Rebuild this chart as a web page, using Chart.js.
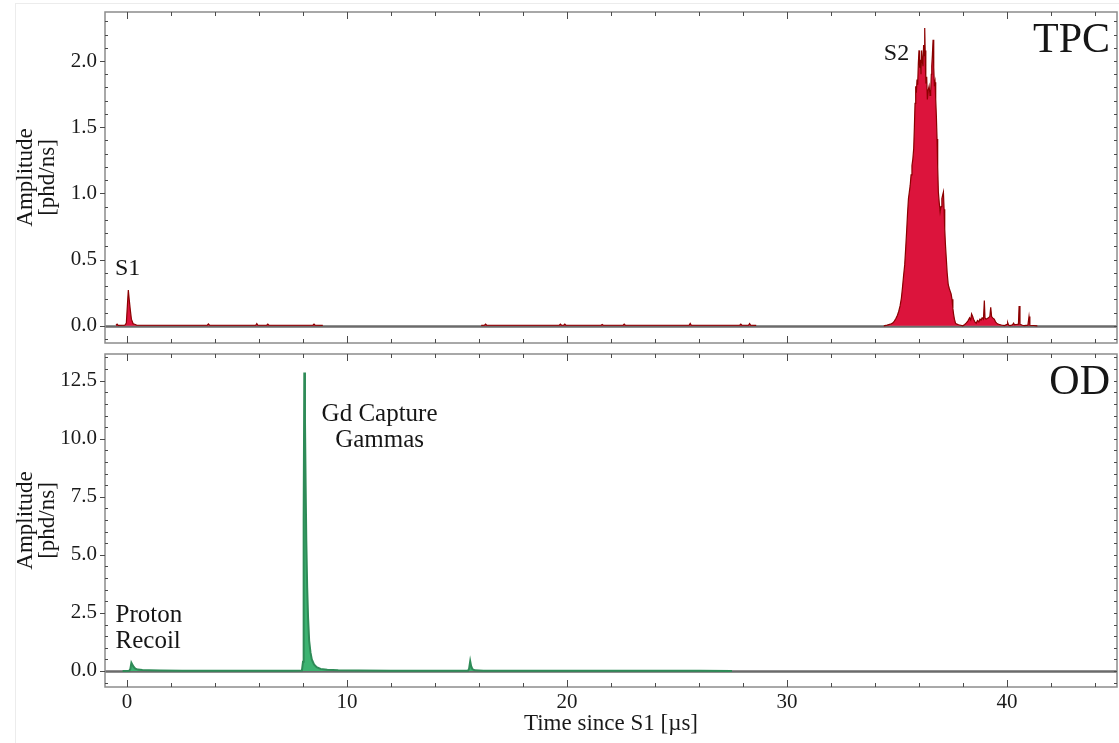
<!DOCTYPE html>
<html>
<head>
<meta charset="utf-8">
<script src="https://cdn.jsdelivr.net/npm/chart.js@4.4.1/dist/chart.umd.min.js"></script>
<style>
  html, body { margin: 0; padding: 0; background: #fff; }
  #wrap { position: relative; width: 1119px; height: 743px; overflow: hidden; background: #fff; }
  #wrap canvas { position: absolute; left: 0; }
  #tpc { top: 0; }
  #od { top: 348px; }
  #edge { position: absolute; left: 15px; top: 3px; right: 0; bottom: 0;
          border-left: 1px solid #ececec; border-top: 1px solid #ececec; }
</style>
</head>
<body>
<div id="wrap">
  <div id="edge"></div>
  <canvas id="tpc" width="1119" height="348"></canvas>
  <canvas id="od" width="1119" height="395"></canvas>
</div>
<script>
// ---- waveform samples: [time since S1 (µs), amplitude (phd/ns)] ----

// TPC: S1 pulse and the quiet stretch after it
const tpcS1 = [
  [-0.50, 0.004], [-0.45, 0.012], [-0.40, 0.003], [-0.10, 0.004], [-0.03, 0.020],
  [0.02, 0.160], [0.06, 0.270], [0.10, 0.200], [0.15, 0.120], [0.20, 0.050],
  [0.28, 0.015], [0.35, 0.012], [0.45, 0.004], [0.80, 0.004], [1.50, 0.004],
  [3.65, 0.004], [3.70, 0.014], [3.75, 0.004], [5.85, 0.004], [5.90, 0.016],
  [5.95, 0.004], [6.35, 0.004], [6.40, 0.012], [6.45, 0.004], [8.45, 0.004],
  [8.50, 0.012], [8.55, 0.004], [8.90, 0.003]
];

// TPC: single electrons / small pulses during the drift
const tpcDrift = [
  [16.10, 0.003], [16.25, 0.004], [16.30, 0.012], [16.35, 0.004], [18.00, 0.004],
  [19.65, 0.004], [19.70, 0.012], [19.75, 0.004], [19.85, 0.004], [19.90, 0.012],
  [19.95, 0.004], [21.55, 0.004], [21.60, 0.010], [21.65, 0.004], [22.55, 0.004],
  [22.60, 0.012], [22.65, 0.004], [24.00, 0.004], [25.55, 0.004], [25.60, 0.018],
  [25.65, 0.004], [27.85, 0.004], [27.90, 0.012], [27.95, 0.004], [28.25, 0.004],
  [28.30, 0.016], [28.35, 0.004], [28.60, 0.003]
];

// TPC: S2 pulse and its tail
const tpcS2 = [
  [34.40, 0.000], [34.55, 0.005], [34.70, 0.012], [34.80, 0.020], [34.88, 0.035],
  [34.95, 0.055], [35.02, 0.080], [35.08, 0.110], [35.14, 0.150], [35.20, 0.210],
  [35.25, 0.290], [35.30, 0.380], [35.35, 0.460], [35.40, 0.600], [35.44, 0.720],
  [35.48, 0.850], [35.52, 0.960], [35.56, 1.010], [35.60, 1.060], [35.64, 1.140],
  [35.68, 1.210], [35.72, 1.260], [35.76, 1.340], [35.79, 1.500], [35.82, 1.680],
  [35.85, 1.810], [35.88, 1.760], [35.91, 1.860], [35.94, 1.820], [35.97, 1.980],
  [36.00, 2.080], [36.03, 1.950], [36.06, 2.010], [36.09, 1.900], [36.12, 2.080],
  [36.15, 2.000], [36.18, 1.960], [36.21, 2.120], [36.24, 2.040], [36.26, 2.250],
  [36.28, 2.080], [36.31, 1.830], [36.35, 1.880], [36.38, 1.710], [36.42, 1.780],
  [36.46, 1.810], [36.50, 1.740], [36.53, 1.760], [36.56, 1.900], [36.58, 1.960],
  [36.61, 2.050], [36.64, 2.160], [36.67, 1.950], [36.70, 1.810], [36.73, 1.840],
  [36.76, 1.710], [36.79, 1.580], [36.82, 1.410], [36.85, 1.200], [36.88, 1.010],
  [36.92, 0.930], [36.96, 0.860], [37.00, 0.900], [37.04, 0.960], [37.08, 0.990],
  [37.11, 1.010], [37.14, 0.880], [37.17, 0.730], [37.20, 0.620], [37.24, 0.510],
  [37.28, 0.400], [37.33, 0.310], [37.38, 0.280], [37.42, 0.260], [37.46, 0.240],
  [37.50, 0.200], [37.54, 0.130], [37.57, 0.090], [37.61, 0.050], [37.66, 0.020],
  [37.72, 0.012], [37.80, 0.008], [37.90, 0.004], [37.99, 0.000], [38.08, 0.010],
  [38.14, 0.020], [38.22, 0.035], [38.30, 0.060], [38.35, 0.045], [38.39, 0.090],
  [38.44, 0.070], [38.48, 0.050], [38.54, 0.030], [38.60, 0.020], [38.66, 0.040],
  [38.72, 0.030], [38.77, 0.050], [38.83, 0.045], [38.87, 0.060], [38.93, 0.050],
  [38.97, 0.190], [39.00, 0.060], [39.05, 0.050], [39.10, 0.055], [39.16, 0.060],
  [39.22, 0.070], [39.26, 0.140], [39.30, 0.070], [39.35, 0.060], [39.42, 0.050],
  [39.48, 0.030], [39.53, 0.020], [39.60, 0.012], [39.65, 0.010], [39.75, 0.006],
  [39.88, 0.002], [40.00, 0.010], [40.03, 0.025], [40.07, 0.006], [40.14, 0.002],
  [40.25, 0.008], [40.30, 0.020], [40.34, 0.008], [40.45, 0.010], [40.52, 0.012],
  [40.55, 0.150], [40.59, 0.012], [40.70, 0.004], [40.78, 0.002], [40.95, 0.005],
  [41.00, 0.070], [41.04, 0.004], [41.20, 0.002], [41.38, 0.000]
];

// OD: proton recoil, Gd capture gammas and a late small pulse
const odPulses = [
  [-0.20, 0.000], [0.10, 0.010], [0.15, 0.080], [0.20, 0.350], [0.24, 0.280],
  [0.30, 0.180], [0.38, 0.100], [0.50, 0.060], [0.70, 0.040], [1.00, 0.030],
  [1.50, 0.020], [2.50, 0.015], [4.00, 0.012], [6.00, 0.010], [7.50, 0.010],
  [7.95, 0.020], [8.00, 0.400], [8.03, 6.500], [8.06, 12.850], [8.09, 10.800],
  [8.12, 8.000], [8.15, 5.600], [8.19, 3.600], [8.23, 2.300], [8.28, 1.300],
  [8.34, 0.800], [8.40, 0.500], [8.50, 0.280], [8.62, 0.160], [8.80, 0.090],
  [9.10, 0.050], [9.60, 0.030], [10.50, 0.020], [12.00, 0.015], [14.00, 0.012],
  [15.50, 0.012], [15.55, 0.100], [15.60, 0.420], [15.64, 0.220], [15.70, 0.080],
  [15.80, 0.030], [16.20, 0.015], [18.00, 0.012], [20.00, 0.010], [22.00, 0.010],
  [24.00, 0.008], [26.00, 0.006], [27.50, 0.000]
];

// axis ranges and ticks
const xRange = [-1.0, 45.0];
const xMajor = [0, 10, 20, 30, 40];
const xMinor = [2, 4, 6, 8, 12, 14, 16, 18, 22, 24, 26, 28, 32, 34, 36, 38, 42, 44];

const tpcRange = [-0.13, 2.37];
const tpcMajor = [0, 0.5, 1.0, 1.5, 2.0];
const tpcMinor = [-0.1, 0.1, 0.2, 0.3, 0.4, 0.6, 0.7, 0.8, 0.9, 1.1, 1.2, 1.3, 1.4,
                  1.6, 1.7, 1.8, 1.9, 2.1, 2.2, 2.3];

const odRange = [-0.69, 13.65];
const odMajor = [0, 2.5, 5.0, 7.5, 10.0, 12.5];
const odMinor = [-0.5, 0.5, 1, 1.5, 2, 3, 3.5, 4, 4.5, 5.5, 6, 6.5, 7, 8, 8.5, 9, 9.5,
                 10.5, 11, 11.5, 12, 13, 13.5];

const SERIF = "'Liberation Serif', 'Times New Roman', serif";
Chart.defaults.font.family = SERIF;

const toPoints = pairs => pairs.map(p => ({ x: p[0], y: p[1] }));
// join segments, leaving a break in the trace between them
function joinSegments(...segs) {
  const out = [];
  segs.forEach((s, i) => {
    if (i > 0) out.push({ x: s[0][0], y: null });
    out.push(...toPoints(s));
  });
  return out;
}

// frame, inward ticks, zero line, panel name and annotations
const panelDecor = {
  id: 'panelDecor',
  beforeDatasetsDraw(chart, args, o) {
    const { ctx, chartArea: a, scales: { y } } = chart;
    const y0 = Math.round(y.getPixelForValue(0)) + 0.5;
    ctx.save();
    ctx.strokeStyle = '#6b6b6b';
    ctx.lineWidth = 2.5;
    ctx.beginPath();
    ctx.moveTo(a.left, y0);
    ctx.lineTo(a.right, y0);
    ctx.stroke();
    ctx.restore();
  },
  afterDraw(chart, args, o) {
    const { ctx, chartArea: a, scales: { x, y } } = chart;
    ctx.save();

    ctx.strokeStyle = '#8c8c8c';
    ctx.lineWidth = 1.5;
    ctx.strokeRect(a.left, a.top, a.right - a.left, a.bottom - a.top);

    ctx.strokeStyle = '#4a4a4a';
    ctx.lineWidth = 1;
    const seg = (x1, y1, x2, y2) => {
      ctx.beginPath(); ctx.moveTo(x1, y1); ctx.lineTo(x2, y2); ctx.stroke();
    };
    const xTick = (v, len) => {
      const px = Math.round(x.getPixelForValue(v)) + 0.5;
      seg(px, a.bottom, px, a.bottom - len);
      seg(px, a.top, px, a.top + len);
    };
    const yTick = (v, lenIn, lenOut) => {
      const py = Math.round(y.getPixelForValue(v)) + 0.5;
      seg(a.left - lenOut, py, a.left + lenIn, py);
      seg(a.right, py, a.right - Math.max(lenIn, 3), py);
    };
    xMajor.forEach(v => xTick(v, 7));
    xMinor.forEach(v => xTick(v, 4));
    o.yMajor.forEach(v => yTick(v, 0, 5));
    o.yMinor.forEach(v => yTick(v, 3, 0));

    ctx.fillStyle = '#161616';
    ctx.textBaseline = 'alphabetic';

    // y axis title, two rotated lines
    const cy = (a.top + a.bottom) / 2;
    ctx.font = '23px ' + SERIF;
    ctx.textAlign = 'center';
    o.yTitle.forEach((line, i) => {
      ctx.save();
      ctx.translate(a.left - 73 + i * 22, cy);
      ctx.rotate(-Math.PI / 2);
      ctx.fillText(line, 0, 0);
      ctx.restore();
    });

    // panel name in the upper right corner
    ctx.font = '42px ' + SERIF;
    ctx.textAlign = 'right';
    ctx.fillText(o.name, a.right - 7, a.top + 40);

    // pulse annotations, anchored in data units
    o.notes.forEach(n => {
      ctx.font = n.size + 'px ' + SERIF;
      ctx.textAlign = n.align;
      const px = x.getPixelForValue(n.x);
      const py = y.getPixelForValue(n.y);
      n.lines.forEach((line, i) => ctx.fillText(line, px, py + i * 26));
    });
    ctx.restore();
  }
};

function makePanel(id, cfg) {
  return new Chart(document.getElementById(id), {
    type: 'line',
    data: {
      datasets: [{
        data: cfg.points,
        borderColor: cfg.edge,
        backgroundColor: cfg.fill,
        borderWidth: cfg.lineWidth,
        fill: 'origin',
        pointRadius: 0,
        tension: 0,
        spanGaps: false
      }]
    },
    options: {
      responsive: false,
      animation: false,
      events: [],
      layout: { padding: cfg.padding },
      plugins: {
        legend: { display: false },
        tooltip: { enabled: false },
        panelDecor: {
          name: cfg.name,
          yTitle: ['Amplitude', '[phd/ns]'],
          yMajor: cfg.yMajor,
          yMinor: cfg.yMinor,
          notes: cfg.notes
        }
      },
      scales: {
        x: {
          type: 'linear',
          min: xRange[0],
          max: xRange[1],
          display: cfg.showX,
          grid: { display: false, drawTicks: false },
          border: { display: false },
          afterBuildTicks: s => { s.ticks = xMajor.map(v => ({ value: v })); },
          ticks: {
            font: { size: 21, family: SERIF },
            color: '#1a1a1a',
            padding: 3,
            maxRotation: 0,
            callback: v => String(v)
          },
          title: {
            display: true,
            text: 'Time since S1 [µs]',
            font: { size: 23, family: SERIF },
            color: '#1a1a1a',
            padding: { top: 0, bottom: 5 }
          },
          afterFit: s => {
            s.height = cfg.showX ? 56 : 0;
            s.paddingLeft = 0; s.paddingRight = 0;
          }
        },
        y: {
          type: 'linear',
          min: cfg.yRange[0],
          max: cfg.yRange[1],
          grid: { display: false, drawTicks: false },
          border: { display: false },
          afterBuildTicks: s => { s.ticks = cfg.yMajor.map(v => ({ value: v })); },
          ticks: {
            font: { size: 21, family: SERIF },
            color: '#1a1a1a',
            padding: 8,
            callback: v => v.toFixed(1)
          },
          afterFit: s => {
            s.width = 105;
            s.paddingTop = 0; s.paddingBottom = 0;
          }
        }
      }
    },
    plugins: [panelDecor]
  });
}

makePanel('tpc', {
  name: 'TPC',
  points: joinSegments(tpcS1, tpcDrift, tpcS2),
  fill: 'rgb(220, 20, 60)',
  edge: 'rgb(139, 0, 0)',
  lineWidth: 1.2,
  showX: false,
  padding: { top: 12, bottom: 5, left: 0, right: 2 },
  yRange: tpcRange,
  yMajor: tpcMajor,
  yMinor: tpcMinor,
  notes: [
    { lines: ['S1'], x: -0.55, y: 0.38, align: 'left', size: 24 },
    { lines: ['S2'], x: 34.4, y: 2.01, align: 'left', size: 24 }
  ]
});

makePanel('od', {
  name: 'OD',
  points: toPoints(odPulses),
  fill: 'rgb(60, 179, 113)',
  edge: 'rgb(46, 139, 87)',
  lineWidth: 2,
  showX: true,
  padding: { top: 6, bottom: 0, left: 0, right: 2 },
  yRange: odRange,
  yMajor: odMajor,
  yMinor: odMinor,
  notes: [
    { lines: ['Gd Capture', 'Gammas'], x: 11.48, y: 10.75, align: 'center', size: 25 },
    { lines: ['Proton', 'Recoil'], x: -0.52, y: 2.12, align: 'left', size: 25 }
  ]
});
</script>
</body>
</html>
